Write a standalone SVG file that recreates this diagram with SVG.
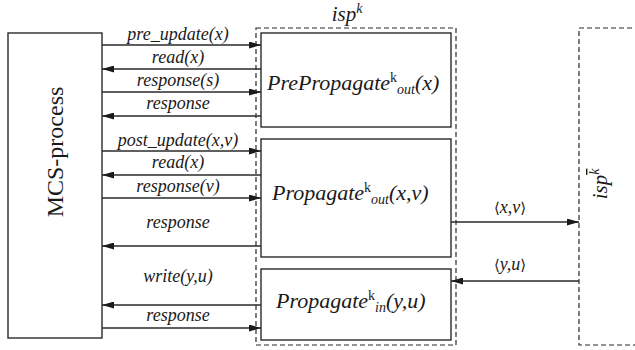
<svg xmlns="http://www.w3.org/2000/svg" width="635" height="350" viewBox="0 0 635 350">
  <style>
    .box { fill: #ffffff; stroke: #2a2a2a; stroke-width: 1.4; }
    .dash { fill: none; stroke: #2a2a2a; stroke-width: 1.2; stroke-dasharray: 5 3; }
    .ln { fill: none; stroke: #2a2a2a; stroke-width: 1.3; }
    .lbl { font-family: 'Liberation Serif', 'Times New Roman', serif; font-style: italic; font-size: 18px; fill: #1a1a1a; text-anchor: middle; }
    .big { font-family: 'Liberation Serif', 'Times New Roman', serif; font-style: italic; font-size: 22px; fill: #1a1a1a; }
    .title { font-family: 'Liberation Serif', 'Times New Roman', serif; font-style: italic; font-size: 21px; fill: #1a1a1a; text-anchor: middle; }
    .rm { font-family: 'Liberation Serif', 'Times New Roman', serif; font-size: 24px; fill: #1a1a1a; text-anchor: middle; }
    .sup { font-size: 14px; }
    .up { font-style: normal; }
    .br { font-family: 'DejaVu Serif', serif; font-style: normal; font-size: 15px; }
  </style>
  <defs>
    <marker id="ah" viewBox="0 0 12 7" refX="12" refY="3.5" markerWidth="12" markerHeight="7" markerUnits="userSpaceOnUse" orient="auto">
      <path d="M0,0 L12,3.5 L0,7 Z" fill="#1a1a1a"/>
    </marker>
  </defs>

  <!-- client process -->
  <g id="mcs-process">
    <rect class="box" x="8" y="33" width="94" height="305"/>
    <text class="rm" transform="translate(63,152) rotate(-90)">MCS-process</text>
  </g>

  <!-- local service process isp^k -->
  <g id="isp-k">
    <rect class="dash" x="256" y="28" width="200" height="317"/>
    <text class="title" x="347" y="21">isp<tspan class="sup" dy="-8">k</tspan></text>
  </g>

  <g id="prepropagate-out">
    <rect class="box" x="261" y="33" width="190" height="94"/>
    <text class="big" x="267" y="90">PrePropagate<tspan class="sup up" dy="-8">k</tspan><tspan class="sup" dy="12">out</tspan><tspan dy="-4">(x)</tspan></text>
  </g>

  <g id="propagate-out">
    <rect class="box" x="261" y="139" width="190" height="118"/>
    <text class="big" x="272" y="200">Propagate<tspan class="sup up" dy="-8">k</tspan><tspan class="sup" dy="12">out</tspan><tspan dy="-4">(x,v)</tspan></text>
  </g>

  <g id="propagate-in">
    <rect class="box" x="261" y="269" width="190" height="71"/>
    <text class="big" x="276" y="308">Propagate<tspan class="sup up" dy="-8">k</tspan><tspan class="sup" dy="12">in</tspan><tspan dy="-4">(y,u)</tspan></text>
  </g>

  <!-- remote service process -->
  <g id="isp-kbar">
    <path class="dash" d="M640,28 H579 V345 H640"/>
    <text class="title" transform="translate(607,184) rotate(-90)">isp<tspan class="sup" dy="-8" text-decoration="overline">k</tspan></text>
  </g>

  <!-- messages -->
  <g id="connectors">
    <line class="ln" x1="102" y1="45" x2="261" y2="45" marker-end="url(#ah)"/>
    <line class="ln" x1="261" y1="69" x2="102" y2="69" marker-end="url(#ah)"/>
    <line class="ln" x1="102" y1="92" x2="261" y2="92" marker-end="url(#ah)"/>
    <line class="ln" x1="261" y1="116" x2="102" y2="116" marker-end="url(#ah)"/>
    <line class="ln" x1="102" y1="151" x2="261" y2="151" marker-end="url(#ah)"/>
    <line class="ln" x1="261" y1="175" x2="102" y2="175" marker-end="url(#ah)"/>
    <line class="ln" x1="102" y1="198" x2="261" y2="198" marker-end="url(#ah)"/>
    <line class="ln" x1="261" y1="246" x2="102" y2="246" marker-end="url(#ah)"/>
    <line class="ln" x1="261" y1="305" x2="102" y2="305" marker-end="url(#ah)"/>
    <line class="ln" x1="102" y1="328" x2="261" y2="328" marker-end="url(#ah)"/>
    <line class="ln" x1="451" y1="222" x2="579" y2="222" marker-end="url(#ah)"/>
    <line class="ln" x1="579" y1="281" x2="451" y2="281" marker-end="url(#ah)"/>

    <text class="lbl" x="178" y="40">pre_update(x)</text>
    <text class="lbl" x="178" y="63">read(x)</text>
    <text class="lbl" x="178" y="86">response(s)</text>
    <text class="lbl" x="178" y="109">response</text>
    <text class="lbl" x="178" y="146">post_update(x,v)</text>
    <text class="lbl" x="178" y="168">read(x)</text>
    <text class="lbl" x="178" y="192">response(v)</text>
    <text class="lbl" x="178" y="228">response</text>
    <text class="lbl" x="178" y="282">write(y,u)</text>
    <text class="lbl" x="178" y="321">response</text>
    <text class="lbl" x="510" y="213"><tspan class="br">⟨</tspan>x,v<tspan class="br">⟩</tspan></text>
    <text class="lbl" x="510" y="270"><tspan class="br">⟨</tspan>y,u<tspan class="br">⟩</tspan></text>
  </g>
</svg>
